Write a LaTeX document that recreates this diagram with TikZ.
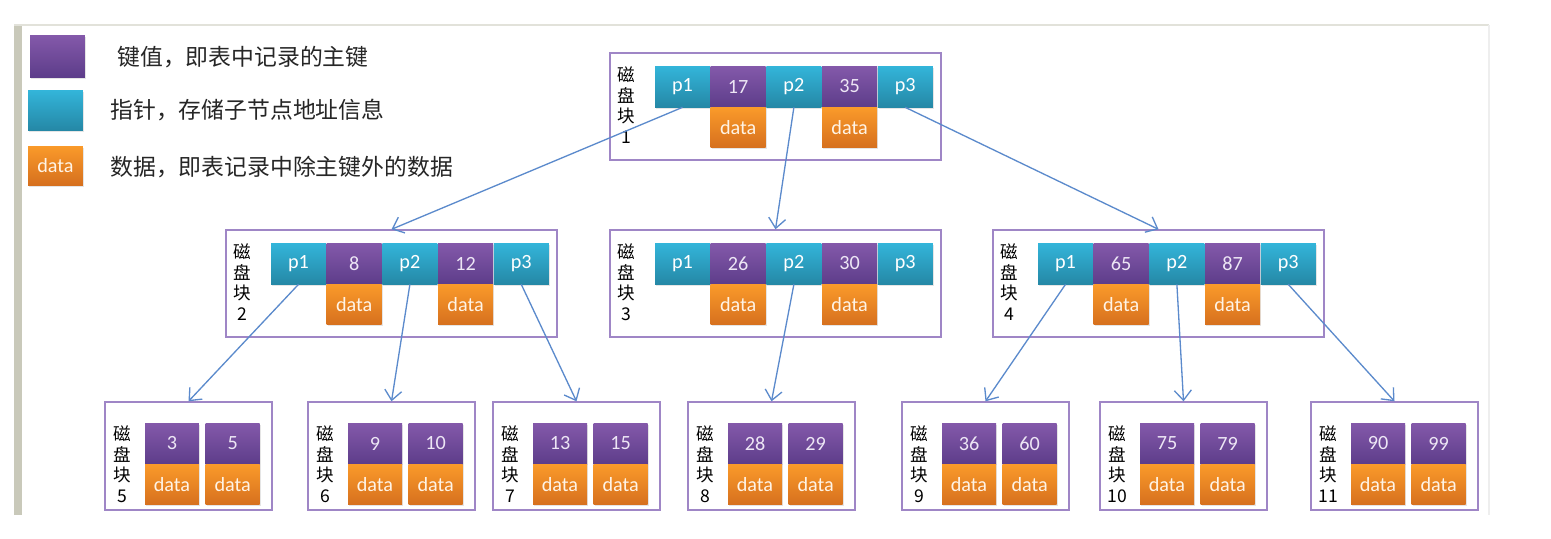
\documentclass[tikz,border=0pt]{standalone}
\usepackage{fontspec}
\setmainfont{Carlito}
\newfontfamily\cjk{Noto Sans CJK SC}
\usetikzlibrary{arrows.meta,positioning,shadows}
\definecolor{KeyTop}{HTML}{8459AA}
\definecolor{KeyBot}{HTML}{5D3D8A}
\definecolor{KeyText}{HTML}{EDE6F5}
\definecolor{PtrTop}{HTML}{33B5DA}
\definecolor{PtrBot}{HTML}{2588A6}
\definecolor{DataTop}{HTML}{FA9A2A}
\definecolor{DataBot}{HTML}{D6701E}
\definecolor{DataText}{HTML}{FFF4E6}
\definecolor{BlockLine}{HTML}{9F86C6}
\definecolor{LinkBlue}{HTML}{5B8ACC}
\definecolor{FrameBar}{HTML}{C9C9BA}
\definecolor{FrameLine}{HTML}{E2E2DA}
\definecolor{FrameEdge}{HTML}{EEEEEE}
\tikzset{
  cell/.style={inner sep=0pt, minimum width=1.1cm, minimum height=0.82cm, font=\fontsize{11.5}{12}\selectfont, drop shadow={shadow xshift=0.5pt, shadow yshift=-1pt, opacity=0.2}},
  keycell/.style={cell, top color=KeyTop, bottom color=KeyBot, text=KeyText},
  ptrcell/.style={cell, top color=PtrTop, bottom color=PtrBot, text=white},
  datacell/.style={cell, minimum height=0.8cm, top color=DataTop, bottom color=DataBot, text=DataText},
  diskbox/.style={draw=BlockLine, line width=0.8pt, inner sep=0pt},
  disklabel/.style={font=\cjk\fontsize{10}{11.7}\selectfont, align=center, inner sep=0pt},
  legendtext/.style={font=\cjk\fontsize{13}{14}\selectfont, anchor=west, inner sep=0pt, text=black!85},
  link/.style={-{Straight Barb[length=2mm, width=3.4mm]}, line width=0.75pt, draw=LinkBlue}
}
\begin{document}
\begin{tikzpicture}[x=0.02cm, y=-0.02cm]
\useasboundingbox (0,0) rectangle (1551,538);
% frame
\fill[white] (14,25) rectangle (1489,515);
\fill[FrameBar] (14,25) rectangle (22,515);
\draw[FrameLine, line width=1pt] (14,25) -- (1489,25);
\draw[FrameEdge, line width=1.5pt] (1489,25) -- (1489,515);
% legend
\node[keycell, minimum height=0.84cm] (lkey) at (57.5,56) {};
\node[ptrcell, minimum height=0.8cm] (lptr) at (55.5,110) {};
\node[datacell, minimum height=0.78cm] (ldata) at (55.5,165.5) {data};
\node[legendtext] (tkey) at (117,57) {键值，即表中记录的主键};
\node[legendtext] (tptr) at (110,110) {指针，存储子节点地址信息};
\node[legendtext] (tdata) at (110,167) {数据，即表记录中除主键外的数据};
% root and middle blocks
\foreach \x/\y/\n/\a/\b in {610/53/1/17/35, 226/230/2/8/12, 610/230/3/26/30, 993/230/4/65/87}{
  \node[diskbox, minimum width=6.62cm, minimum height=2.14cm] (blk\n) at (\x+165.5,\y+53.5) {};
  \node[disklabel] (lab\n) at (\x+16,\y+52) {磁\\盘\\块\\\n};
  \node[ptrcell] (p1-\n) at (\x+72.5,\y+33.5) {p1};
  \node[keycell, right=0pt of p1-\n] (k1-\n) {\a};
  \node[ptrcell, right=0pt of k1-\n] (p2-\n) {p2};
  \node[keycell, right=0pt of p2-\n] (k2-\n) {\b};
  \node[ptrcell, right=0pt of k2-\n] (p3-\n) {p3};
  \node[datacell, below=0pt of k1-\n] (d1-\n) {data};
  \node[datacell, below=0pt of k2-\n] (d2-\n) {data};
}
% leaf blocks
\foreach \x/\n/\a/\b in {105/5/3/5, 308/6/9/10, 493/7/13/15, 688/8/28/29, 902/9/36/60, 1100/10/75/79, 1311/11/90/99}{
  \node[diskbox, minimum width=3.34cm, minimum height=2.16cm] (blk\n) at (\x+83.5,456) {};
  \node[disklabel] (lab\n) at (\x+17,464) {磁\\盘\\块\\\n};
  \node[keycell, minimum width=1.08cm] (k1-\n) at (\x+67,443.5) {\a};
  \node[keycell, minimum width=1.08cm, right=0.12cm of k1-\n] (k2-\n) {\b};
  \node[datacell, minimum width=1.08cm, below=0pt of k1-\n] (d1-\n) {data};
  \node[datacell, minimum width=1.08cm, below=0pt of k2-\n] (d2-\n) {data};
}
% pointers
\draw[link] (p1-1.south) -- (blk2.north);
\draw[link] (p2-1.south) -- (blk3.north);
\draw[link] (p3-1.south) -- (blk4.north);
\draw[link] (p1-2.south) -- (blk5.north);
\draw[link] (p2-2.south) -- (blk6.north);
\draw[link] (p3-2.south) -- (blk7.north);
\draw[link] (p2-3.south) -- (blk8.north);
\draw[link] (p1-4.south) -- (blk9.north);
\draw[link] (p2-4.south) -- (blk10.north);
\draw[link] (p3-4.south) -- (blk11.north);
\end{tikzpicture}
\end{document}
